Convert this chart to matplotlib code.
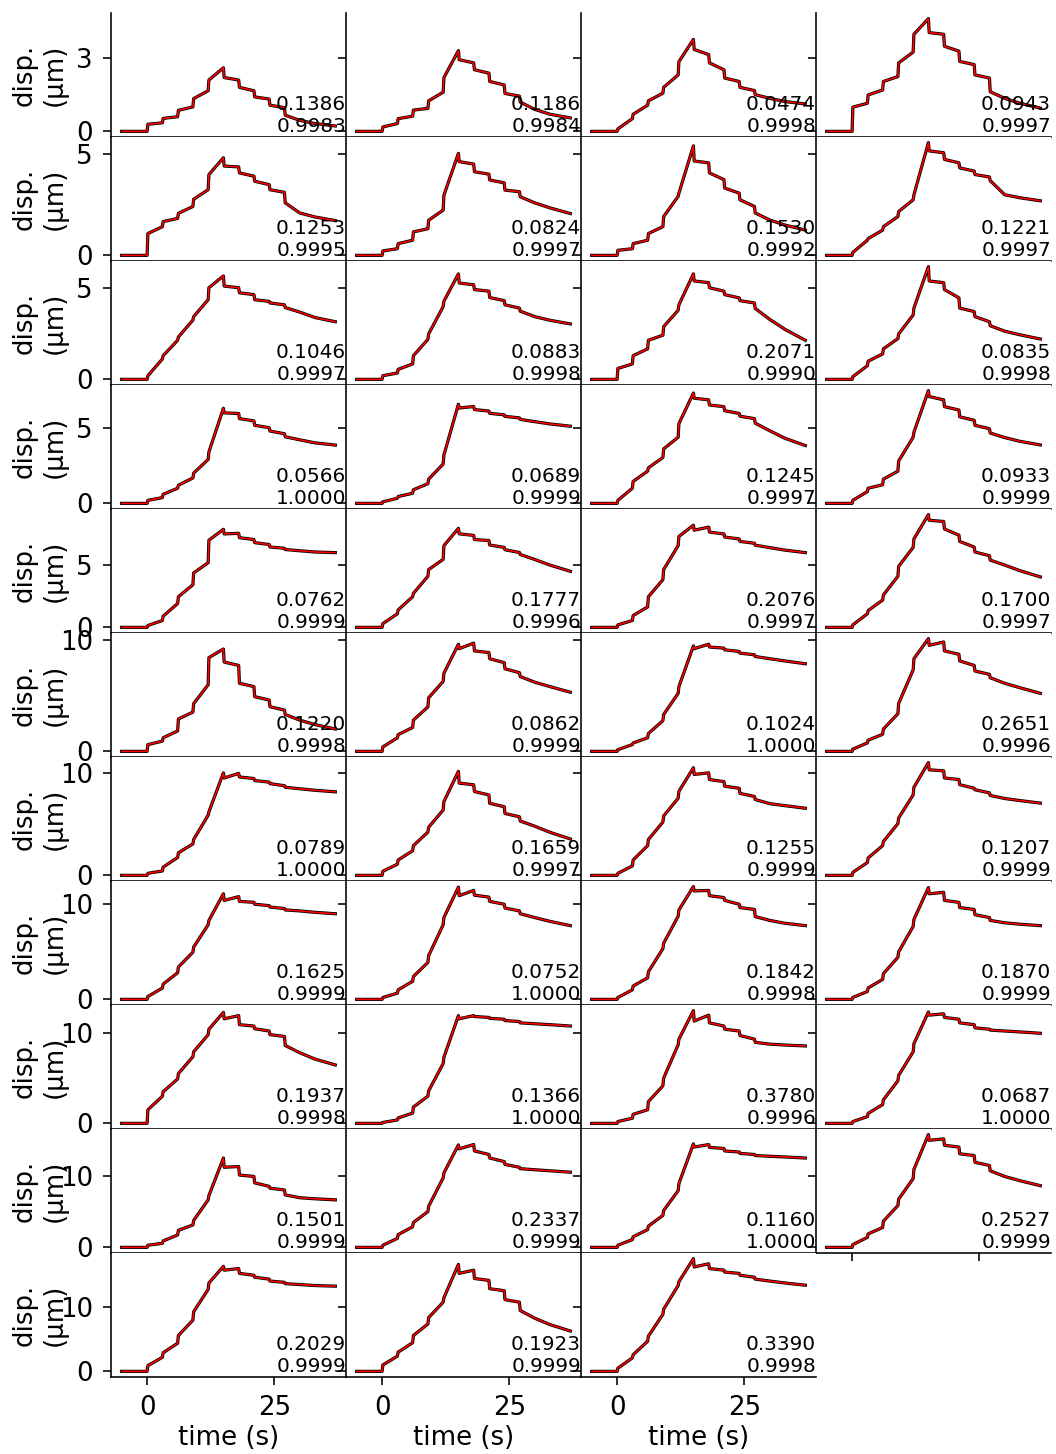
import matplotlib
matplotlib.use("Agg")
import matplotlib.pyplot as plt
import numpy as np

# ---------------- data ----------------
# knot times (s): baseline, loading steps every 3 s, unloading steps every 3 s
knot_times = [-5, 0, 0.15, 3, 3.15, 6, 6.15, 9, 9.15, 12, 12.15, 15,
              15.15, 18, 18.15, 21, 21.15, 24, 24.15, 27, 27.15, 30, 33, 37]
baseline = [0.0, 0.0]

# displacement (um) at knots after the baseline, one list per panel
row_00 = [[0.29, 0.35, 0.53, 0.6, 0.86, 1.0, 1.34, 1.66, 2.1, 2.6, 2.2, 2.1, 1.8, 1.66, 1.41, 1.32, 1.07, 0.97, 0.66, 0.45, 0.32, 0.22],
          [0.18, 0.32, 0.52, 0.62, 0.87, 0.94, 1.25, 1.6, 2.2, 3.3, 2.93, 2.8, 2.52, 2.38, 2.04, 1.9, 1.55, 1.44, 1.2, 0.9, 0.7, 0.55],
          [0.1, 0.52, 0.7, 1.07, 1.25, 1.56, 1.8, 2.31, 2.85, 3.76, 3.35, 3.14, 2.8, 2.52, 2.18, 2.04, 1.8, 1.67, 1.5, 1.35, 1.22, 1.12],
          [0.99, 1.15, 1.49, 1.69, 2.04, 2.24, 2.8, 3.24, 3.97, 4.61, 4.04, 3.97, 3.48, 3.28, 2.86, 2.73, 2.31, 2.18, 1.62, 1.35, 1.15, 0.95]]
row_01 = [[1.08, 1.42, 1.67, 1.83, 2.08, 2.42, 2.78, 3.25, 4.0, 4.83, 4.42, 4.38, 4.08, 3.92, 3.67, 3.5, 3.25, 3.12, 2.6, 2.1, 1.9, 1.72],
          [0.22, 0.33, 0.58, 0.75, 1.16, 1.32, 1.74, 2.24, 2.98, 5.05, 4.64, 4.52, 4.14, 4.02, 3.73, 3.59, 3.23, 3.15, 2.9, 2.6, 2.35, 2.07],
          [0.25, 0.33, 0.58, 0.75, 1.08, 1.42, 1.92, 2.92, 3.08, 5.42, 4.67, 4.58, 4.08, 3.75, 3.33, 3.08, 2.75, 2.42, 2.1, 1.75, 1.5, 1.25],
          [0.15, 0.75, 0.83, 1.25, 1.42, 1.92, 2.17, 2.75, 3.0, 5.58, 5.17, 5.08, 4.75, 4.58, 4.33, 4.17, 4.0, 3.88, 3.7, 3.0, 2.85, 2.7]]
row_02 = [[0.2, 1.12, 1.3, 2.15, 2.33, 3.26, 3.45, 4.38, 5.04, 5.69, 5.13, 5.04, 4.76, 4.66, 4.38, 4.29, 4.2, 4.1, 3.95, 3.7, 3.4, 3.17],
          [0.2, 0.35, 0.55, 0.85, 1.3, 2.2, 2.5, 4.0, 4.3, 5.8, 5.3, 5.2, 4.94, 4.85, 4.5, 4.33, 4.1, 3.92, 3.75, 3.45, 3.25, 3.05],
          [0.6, 0.85, 1.3, 1.68, 2.15, 2.43, 2.9, 3.8, 4.1, 5.8, 5.41, 5.32, 5.04, 4.85, 4.66, 4.48, 4.33, 4.2, 3.9, 3.3, 2.75, 2.15],
          [0.15, 0.75, 1.0, 1.4, 1.68, 2.24, 2.5, 3.54, 3.92, 6.2, 5.41, 5.32, 4.94, 4.48, 3.92, 3.73, 3.45, 3.17, 2.95, 2.65, 2.45, 2.22]]
row_03 = [[0.2, 0.38, 0.6, 1.0, 1.2, 1.68, 2.0, 2.9, 3.4, 6.28, 5.98, 5.94, 5.6, 5.45, 5.16, 5.0, 4.78, 4.6, 4.4, 4.2, 4.0, 3.85],
          [0.1, 0.34, 0.45, 0.67, 0.9, 1.3, 1.6, 2.6, 3.2, 6.55, 6.3, 6.4, 6.2, 6.1, 5.95, 5.85, 5.75, 5.65, 5.55, 5.4, 5.25, 5.1],
          [0.2, 1.0, 1.45, 2.13, 2.35, 3.03, 3.6, 4.37, 5.27, 7.29, 6.95, 6.84, 6.5, 6.39, 6.12, 5.94, 5.76, 5.6, 5.3, 4.8, 4.3, 3.82],
          [0.2, 0.78, 1.0, 1.23, 1.6, 2.13, 2.8, 4.37, 4.7, 7.45, 7.06, 6.84, 6.39, 6.17, 5.72, 5.49, 5.16, 4.93, 4.65, 4.35, 4.1, 3.86]]
row_04 = [[0.15, 0.55, 0.9, 1.91, 2.46, 3.42, 4.37, 5.19, 7.0, 7.87, 7.5, 7.55, 7.2, 7.05, 6.8, 6.65, 6.45, 6.35, 6.25, 6.15, 6.05, 6.0],
          [0.3, 1.09, 1.4, 2.46, 2.73, 4.1, 4.64, 5.46, 6.56, 7.95, 7.51, 7.38, 7.05, 6.97, 6.61, 6.42, 6.23, 6.01, 5.85, 5.45, 5.0, 4.5],
          [0.2, 0.55, 0.95, 1.64, 2.46, 3.83, 4.64, 6.56, 7.3, 8.2, 7.8, 8.05, 7.65, 7.5, 7.25, 7.1, 6.9, 6.75, 6.6, 6.4, 6.2, 6.0],
          [0.2, 1.09, 1.35, 2.19, 2.6, 4.1, 4.9, 6.42, 7.1, 9.05, 8.6, 8.5, 7.9, 7.4, 6.9, 6.45, 6.05, 5.75, 5.4, 5.0, 4.55, 4.05]]
row_05 = [[0.6, 0.92, 1.22, 1.83, 2.9, 3.52, 4.28, 5.96, 8.4, 9.17, 8.0, 7.7, 6.1, 5.8, 4.9, 4.6, 4.0, 3.7, 3.3, 2.8, 2.4, 2.0],
          [0.4, 1.22, 1.5, 2.14, 2.8, 3.98, 4.8, 6.27, 7.0, 9.6, 9.2, 9.7, 9.0, 8.85, 8.3, 7.95, 7.4, 7.05, 6.7, 6.2, 5.8, 5.3],
          [0.15, 0.61, 0.75, 1.22, 1.6, 2.75, 3.3, 5.2, 5.8, 9.45, 9.2, 9.6, 9.35, 9.25, 9.1, 8.95, 8.8, 8.65, 8.5, 8.3, 8.1, 7.85],
          [0.2, 0.76, 1.0, 1.53, 2.0, 3.37, 4.3, 7.3, 8.3, 10.1, 9.5, 9.8, 9.0, 8.7, 8.1, 7.7, 7.2, 6.9, 6.6, 6.1, 5.7, 5.2]]
row_06 = [[0.2, 0.43, 0.8, 1.75, 2.2, 3.07, 3.5, 5.87, 6.2, 10.0, 9.5, 9.95, 9.6, 9.45, 9.25, 9.1, 8.95, 8.75, 8.6, 8.45, 8.3, 8.15],
          [0.4, 1.09, 1.5, 2.4, 2.9, 4.22, 4.7, 6.37, 7.2, 10.15, 9.0, 8.84, 8.18, 7.85, 7.03, 6.7, 6.04, 5.71, 5.3, 4.8, 4.2, 3.55],
          [0.2, 0.92, 1.5, 2.9, 3.5, 5.2, 5.8, 7.52, 8.2, 10.5, 9.85, 10.0, 9.35, 9.15, 8.7, 8.5, 8.0, 7.7, 7.4, 7.0, 6.8, 6.55],
          [0.3, 1.25, 1.7, 2.9, 3.3, 5.05, 5.6, 7.85, 8.6, 11.0, 10.3, 10.2, 9.5, 9.35, 8.85, 8.5, 8.35, 8.05, 7.8, 7.5, 7.3, 7.05]]
row_07 = [[0.3, 1.19, 1.6, 2.8, 3.4, 4.96, 5.5, 7.84, 8.3, 11.1, 10.4, 10.8, 10.3, 10.2, 10.0, 9.85, 9.7, 9.55, 9.4, 9.3, 9.15, 9.0],
          [0.2, 0.65, 1.0, 1.9, 2.4, 3.88, 4.6, 7.84, 8.6, 11.8, 10.9, 11.45, 10.95, 10.75, 10.3, 10.0, 9.6, 9.3, 9.0, 8.6, 8.2, 7.75],
          [0.2, 1.0, 1.4, 2.27, 2.9, 5.33, 5.9, 8.74, 9.4, 11.85, 11.4, 11.45, 10.9, 10.7, 10.4, 10.0, 9.65, 9.45, 8.7, 8.3, 8.0, 7.75],
          [0.2, 0.83, 1.2, 2.1, 2.7, 4.42, 5.0, 7.66, 8.4, 11.75, 11.1, 11.25, 10.4, 10.2, 9.65, 9.45, 8.9, 8.6, 8.3, 8.05, 7.9, 7.75]]
row_08 = [[1.5, 3.0, 3.5, 4.9, 5.5, 7.36, 7.9, 9.8, 10.4, 12.25, 11.55, 11.9, 10.9, 10.75, 10.45, 10.2, 9.8, 9.6, 8.6, 7.8, 7.1, 6.45],
          [0.1, 0.38, 0.6, 1.13, 1.8, 3.0, 3.6, 6.6, 7.3, 11.9, 11.55, 11.9, 11.8, 11.7, 11.6, 11.5, 11.35, 11.25, 11.1, 11.0, 10.9, 10.75],
          [0.2, 0.57, 1.0, 1.5, 2.4, 4.15, 5.0, 8.68, 9.3, 12.45, 11.3, 11.95, 11.1, 10.75, 10.4, 10.2, 9.7, 9.3, 8.95, 8.75, 8.65, 8.55],
          [0.2, 0.75, 1.1, 2.08, 2.6, 4.7, 5.3, 7.9, 8.8, 12.3, 11.95, 12.1, 11.7, 11.5, 11.1, 10.9, 10.55, 10.4, 10.3, 10.2, 10.1, 9.95]]
row_09 = [[0.3, 0.57, 0.9, 1.75, 2.4, 3.16, 3.8, 6.7, 7.3, 12.6, 11.3, 11.4, 10.2, 10.0, 9.1, 8.6, 8.35, 8.1, 7.4, 7.0, 6.85, 6.7],
          [0.3, 1.27, 1.8, 2.9, 3.5, 5.05, 5.8, 9.8, 10.5, 14.45, 13.9, 14.5, 13.6, 13.1, 12.6, 12.1, 11.7, 11.3, 11.1, 10.95, 10.8, 10.6],
          [0.3, 1.1, 1.5, 2.5, 3.0, 4.5, 5.2, 8.0, 9.0, 14.6, 14.15, 14.5, 14.1, 13.95, 13.6, 13.45, 13.25, 13.1, 12.95, 12.85, 12.75, 12.6],
          [0.4, 1.4, 1.9, 2.8, 3.7, 5.9, 6.8, 9.7, 11.0, 15.9, 15.1, 15.3, 14.4, 14.15, 13.2, 12.95, 12.0, 11.55, 10.8, 10.0, 9.4, 8.7]]
row_10 = [[0.9, 2.2, 2.9, 4.4, 5.6, 8.0, 9.3, 12.8, 13.8, 16.4, 15.8, 16.05, 15.3, 15.0, 14.7, 14.4, 14.1, 13.9, 13.7, 13.55, 13.4, 13.3],
          [1.0, 2.37, 3.0, 4.47, 5.6, 7.4, 8.4, 10.8, 11.5, 16.7, 15.3, 15.8, 14.5, 14.2, 12.9, 12.6, 11.2, 10.8, 9.5, 8.3, 7.3, 6.3],
          [0.5, 2.1, 2.6, 4.7, 5.5, 8.9, 9.7, 13.4, 14.0, 17.6, 16.3, 16.8, 16.05, 15.8, 15.5, 15.3, 15.0, 14.7, 14.4, 14.1, 13.8, 13.45]]

rows = [row_00, row_01, row_02, row_03, row_04, row_05, row_06, row_07, row_08, row_09, row_10]

rmse_labels = [["0.1386", "0.1186", "0.0474", "0.0943"],
               ["0.1253", "0.0824", "0.1530", "0.1221"],
               ["0.1046", "0.0883", "0.2071", "0.0835"],
               ["0.0566", "0.0689", "0.1245", "0.0933"],
               ["0.0762", "0.1777", "0.2076", "0.1700"],
               ["0.1220", "0.0862", "0.1024", "0.2651"],
               ["0.0789", "0.1659", "0.1255", "0.1207"],
               ["0.1625", "0.0752", "0.1842", "0.1870"],
               ["0.1937", "0.1366", "0.3780", "0.0687"],
               ["0.1501", "0.2337", "0.1160", "0.2527"],
               ["0.2029", "0.1923", "0.3390"]]
r2_labels = [["0.9983", "0.9984", "0.9998", "0.9997"],
             ["0.9995", "0.9997", "0.9992", "0.9997"],
             ["0.9997", "0.9998", "0.9990", "0.9998"],
             ["1.0000", "0.9999", "0.9997", "0.9999"],
             ["0.9999", "0.9996", "0.9997", "0.9997"],
             ["0.9998", "0.9999", "1.0000", "0.9996"],
             ["1.0000", "0.9997", "0.9999", "0.9999"],
             ["0.9999", "1.0000", "0.9998", "0.9999"],
             ["0.9998", "1.0000", "0.9996", "1.0000"],
             ["0.9999", "0.9999", "1.0000", "0.9999"],
             ["0.9999", "0.9999", "0.9998"]]

row_yticks = [[0, 3], [0, 5], [0, 5], [0, 5], [0, 5],
              [0, 10], [0, 10], [0, 10], [0, 10], [0, 10], [0, 10]]
x_ticks = [0, 25]

# ---------------- figure ----------------
plt.rcParams['font.family'] = ['DejaVu Sans']
plt.rcParams['font.size'] = 10
LABEL_FS = 13
NOTE_FS = 10

W, H, DPI = 1056, 1454, 144
fig = plt.figure(figsize=(W / DPI, H / DPI), dpi=DPI)

n_rows, n_cols = 11, 4
left_px, top_px, col_w, row_h = 111, 13, 235, 124

axes = {}
t = np.array(knot_times)
for r in range(n_rows):
    row_first = None
    for c in range(n_cols):
        if c >= len(rows[r]):
            continue
        x0 = left_px + c * col_w
        y0 = top_px + r * row_h
        rect = [x0 / W, 1 - (y0 + row_h) / H, col_w / W, row_h / H]
        kw = {}
        if row_first is not None:
            kw['sharey'] = row_first
        if (0, 0) in axes:
            kw['sharex'] = axes[(0, 0)]
        ax = fig.add_axes(rect, **kw)
        if row_first is None:
            row_first = ax
        axes[(r, c)] = ax

        y = np.array(baseline + rows[r][c])
        ax.plot(t, y, color='black', lw=1.6, zorder=2)
        ax.plot(t, y, color='red', lw=0.8, zorder=2.5)

        ax.text(1.0, 0.216, rmse_labels[r][c], transform=ax.transAxes,
                ha='right', va='baseline', fontsize=NOTE_FS, zorder=5)
        ax.text(1.0, 0.043, r2_labels[r][c], transform=ax.transAxes,
                ha='right', va='baseline', fontsize=NOTE_FS, zorder=5)

        ax.spines['top'].set_visible(False)
        ax.spines['right'].set_visible(False)
        ax.set_xticks(x_ticks)
        ax.set_yticks(row_yticks[r])
        ax.tick_params(direction='out', length=4, width=0.8, pad=5,
                       labelsize=LABEL_FS)
        if c == 0:
            ax.set_ylabel("disp.\n(µm)", fontsize=LABEL_FS)
            ax.yaxis.set_label_coords(-0.183, 0.5)
        else:
            ax.tick_params(labelleft=False)
        if r == n_rows - 1:
            ax.set_xlabel("time (s)", fontsize=LABEL_FS, labelpad=2)
        else:
            ax.tick_params(labelbottom=False)

for ax in axes.values():
    ax.margins(x=0.05, y=0.05)

fig.savefig("out.png", dpi=DPI)
